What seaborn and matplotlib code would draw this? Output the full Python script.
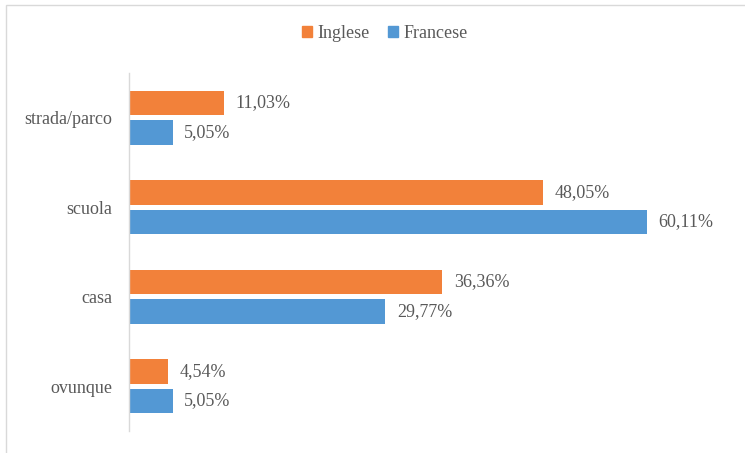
import matplotlib
matplotlib.use("Agg")
import matplotlib.pyplot as plt
import seaborn as sns
import pandas as pd
from matplotlib.patches import Rectangle

luoghi = ["strada/parco", "scuola", "casa", "ovunque"]
lingue = ["Inglese", "Francese"]
inglese = [11.03, 48.05, 36.36, 4.54]
francese = [5.05, 60.11, 29.77, 5.05]
colori = ["#F2813A", "#5398D4"]

df = pd.DataFrame({
    "luogo": luoghi * 2,
    "lingua": [lingue[0]] * len(luoghi) + [lingue[1]] * len(luoghi),
    "valore": inglese + francese,
})

sns.set_theme(style="white")
plt.rcParams["font.family"] = ["Liberation Serif", "DejaVu Serif"]
grigio = "#595959"
fs = 13

fig = plt.figure(figsize=(7.45, 4.53), dpi=100)
ax = fig.add_axes([129 / 745, 22 / 453, (732 - 129) / 745, (431 - 73) / 453])

sns.barplot(data=df, y="luogo", x="valore", hue="lingua", order=luoghi,
            hue_order=lingue, palette=colori, orient="h", width=0.66, gap=0.17,
            saturation=1, ax=ax, legend=False, linewidth=0)

for cont in ax.containers:
    ax.bar_label(cont, labels=[f"{v:.2f}%".replace(".", ",") for v in cont.datavalues],
                 padding=8.5, color=grigio, fontsize=fs)

ax.set_xlim(0, 70)
ax.set_ylim(3.5, -0.5)
ax.set_xticks([])
ax.set_xlabel("")
ax.set_ylabel("")
ax.tick_params(axis="y", length=0, pad=12, labelsize=fs, labelcolor=grigio)
for s in ["top", "right", "bottom"]:
    ax.spines[s].set_visible(False)
ax.spines["left"].set_color("#D9D9D9")
ax.spines["left"].set_linewidth(1)

# legend entries at the top of the chart
handles = [Rectangle((0, 0), 1, 1, color=c) for c in colori]
fig.legend(handles, lingue, loc="center", bbox_to_anchor=(385 / 745, 1 - 33 / 453),
           ncol=2, frameon=False, fontsize=fs, labelcolor=grigio,
           handlelength=0.55, handleheight=0.55, handletextpad=0.3, columnspacing=1.0)

# chart area border
fig.patches.append(Rectangle((6 / 745, -0.1), 1.2, (453 - 5) / 453 + 0.1,
                             transform=fig.transFigure, fill=False,
                             edgecolor="#D9D9D9", linewidth=1))

fig.savefig("out.png", dpi=100)
